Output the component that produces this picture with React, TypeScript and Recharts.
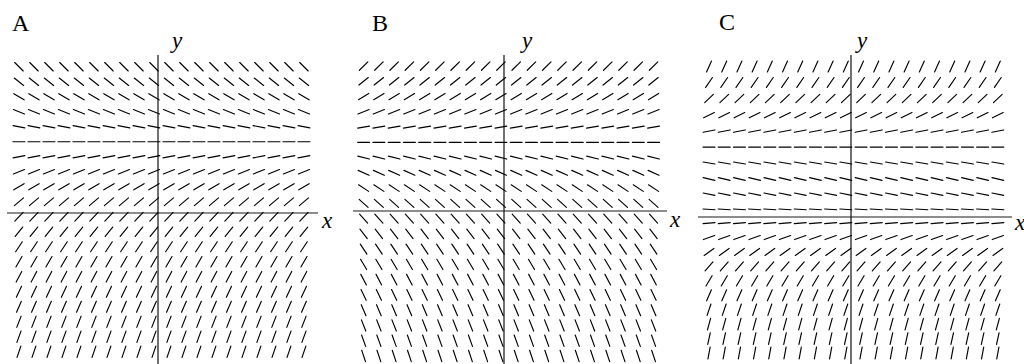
import React from 'react';
import { ScatterChart, Scatter, XAxis, YAxis, ReferenceLine } from 'recharts';

// Grid columns (x values, grid units, y-axis at 0)
const COLS_A = [-9.27, -8.27, -7.27, -6.27, -5.27, -4.27, -3.27, -2.27, -1.27, -0.27, 0.73, 1.73, 2.73, 3.73, 4.73, 5.73, 6.73, 7.73, 8.73, 9.73];
const COLS_B = [-9.2, -8.2, -7.2, -6.2, -5.2, -4.2, -3.2, -2.2, -1.2, -0.2, 0.8, 1.8, 2.8, 3.8, 4.8, 5.8, 6.8, 7.8, 8.8, 9.8];
const COLS_C = [-9.34, -8.34, -7.34, -6.34, -5.34, -4.34, -3.34, -2.34, -1.34, -0.34, 0.66, 1.66, 2.66, 3.66, 4.66, 5.66, 6.66, 7.66, 8.66, 9.66];

// Grid rows (y values, grid units, x-axis at 0)
const ROWS_A = [9.75, 8.75, 7.75, 6.75, 5.75, 4.75, 3.75, 2.75, 1.75, 0.75, -0.25, -1.25, -2.25, -3.25, -4.25, -5.25, -6.25, -7.25, -8.25, -9.25];
const ROWS_B = [9.5, 8.5, 7.5, 6.5, 5.5, 4.5, 3.5, 2.5, 1.5, 0.5, -0.5, -1.5, -2.5, -3.5, -4.5, -5.5, -6.5, -7.5, -8.5, -9.5];
const ROWS_C = [9.9, 8.85, 7.8, 6.7, 5.65, 4.6, 3.55, 2.5, 1.5, 0.5, -0.4, -1.35, -2.3, -3.25, -4.2, -5.15, -6.1, -7.05, -8.0, -8.95];

// Slope of the field in each row (top to bottom)
const SLOPES_A = [-1.0, -0.8, -0.6, -0.4, -0.2, 0, 0.2, 0.4, 0.6, 0.85, 1.05, 1.25, 1.5, 1.7, 1.9, 2.1, 2.3, 2.55, 2.75, 2.95];
const SLOPES_B = [1.0, 0.8, 0.6, 0.4, 0.17, 0, -0.25, -0.45, -0.65, -0.9, -1.1, -1.3, -1.5, -1.7, -1.9, -2.1, -2.35, -2.55, -2.75, -3.0];
const SLOPES_C = [2.2, 1.45, 0.95, 0.5, 0.2, 0, -0.17, -0.23, -0.2, -0.06, 0.08, 0.36, 0.72, 1.15, 1.7, 2.3, 2.95, 3.7, 4.5, 5.4];

const PANEL_LABELS = ['A', 'B', 'C'];
const AXIS_X_LABEL = 'x';
const AXIS_Y_LABEL = 'y';

type Pt = { x: number; y: number; slope: number };

function buildField(cols: number[], rows: number[], slopes: number[]): Pt[] {
  const out: Pt[] = [];
  rows.forEach((y, j) => {
    cols.forEach((x) => {
      out.push({ x, y, slope: slopes[j] });
    });
  });
  return out;
}

const SEG_HALF = 6;

const Segment = (props: any) => {
  const { cx, cy, payload } = props;
  if (cx == null || cy == null) return null;
  const th = Math.atan(payload.slope);
  const dx = SEG_HALF * Math.cos(th);
  const dy = SEG_HALF * Math.sin(th);
  return (
    <line
      x1={cx - dx}
      y1={cy + dy}
      x2={cx + dx}
      y2={cy - dy}
      stroke="#000"
      strokeWidth={1.15}
      strokeLinecap="round"
    />
  );
};

type Layout = {
  left: number;
  width: number;
  x0: number;
  x1: number;
  y0: number;
  y1: number;
  ax: number;
  ay: number;
  unit: number;
};

const LAYOUTS: Layout[] = [
  { left: 0, width: 340, x0: 7, x1: 318, y0: 55, y1: 364, ax: 158, ay: 213, unit: 15 },
  { left: 340, width: 340, x0: 353, x1: 667, y0: 55, y1: 364, ax: 504, ay: 211, unit: 15.26 },
  { left: 684, width: 340, x0: 698, x1: 1012, y0: 55, y1: 364, ax: 851, ay: 217, unit: 15.2 },
];

const FIELDS = [
  buildField(COLS_A, ROWS_A, SLOPES_A),
  buildField(COLS_B, ROWS_B, SLOPES_B),
  buildField(COLS_C, ROWS_C, SLOPES_C),
];

const Panel = ({ lay, data }: { lay: Layout; data: Pt[] }) => {
  const H = 364;
  const xDom: [number, number] = [(lay.x0 - lay.ax) / lay.unit, (lay.x1 - lay.ax) / lay.unit];
  const yDom: [number, number] = [(lay.ay - lay.y1) / lay.unit, (lay.ay - lay.y0) / lay.unit];
  return (
    <div style={{ position: 'absolute', left: lay.left, top: 0, width: lay.width, height: H }}>
      <ScatterChart
        width={lay.width}
        height={H}
        margin={{ left: lay.x0 - lay.left, right: lay.left + lay.width - lay.x1, top: lay.y0, bottom: H - lay.y1 }}
      >
        <XAxis type="number" dataKey="x" domain={xDom} allowDataOverflow hide />
        <YAxis type="number" dataKey="y" domain={yDom} allowDataOverflow hide />
        <ReferenceLine y={0} stroke="#666" strokeWidth={1.7} />
        <ReferenceLine x={0} stroke="#111" strokeWidth={1.2} />
        <Scatter data={data} shape={<Segment />} isAnimationActive={false} />
      </ScatterChart>
    </div>
  );
};

const TEXT_POS = [
  { letter: [12, 31], y: [172, 48], x: [322, 228] },
  { letter: [372, 31], y: [522, 48], x: [670, 227] },
  { letter: [719, 30], y: [857, 48], x: [1015, 230] },
];

export default function App() {
  return (
    <div style={{ position: 'absolute', left: 0, top: 0, width: 1024, height: 364, background: '#fff', overflow: 'hidden' }}>
      {LAYOUTS.map((lay, i) => (
        <Panel key={i} lay={lay} data={FIELDS[i]} />
      ))}
      <svg
        width={1024}
        height={364}
        style={{ position: 'absolute', left: 0, top: 0, pointerEvents: 'none' }}
      >
        {TEXT_POS.map((p, i) => (
          <g key={i} fontFamily="'Liberation Serif', 'DejaVu Serif', serif" fill="#000">
            <text x={p.letter[0]} y={p.letter[1]} fontSize={24}>{PANEL_LABELS[i]}</text>
            <text x={p.y[0]} y={p.y[1]} fontSize={23} fontStyle="italic">{AXIS_Y_LABEL}</text>
            <text x={p.x[0]} y={p.x[1]} fontSize={23} fontStyle="italic">{AXIS_X_LABEL}</text>
          </g>
        ))}
      </svg>
    </div>
  );
}
